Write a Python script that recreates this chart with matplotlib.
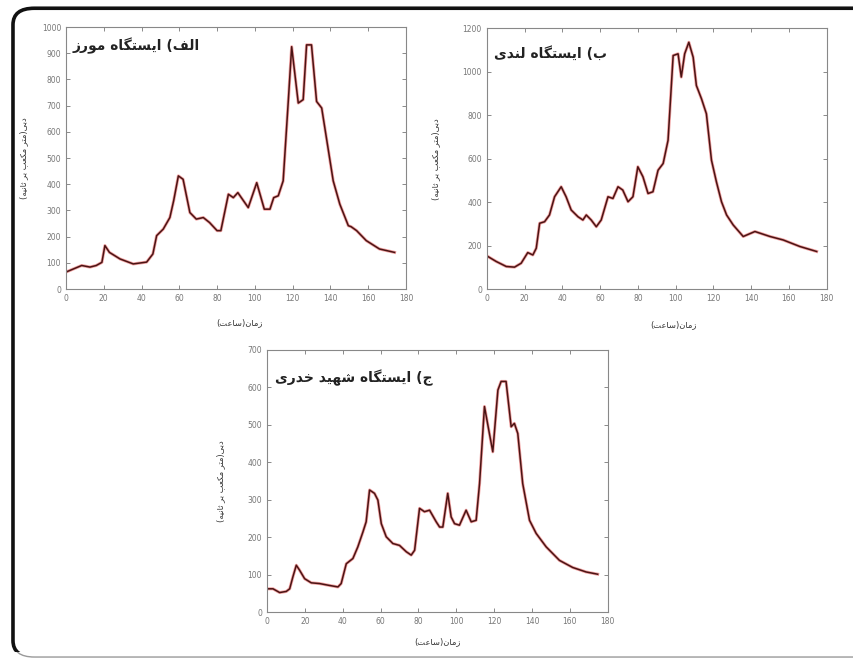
import numpy as np
import matplotlib
matplotlib.use("Agg")
import matplotlib.pyplot as plt
from matplotlib.patches import FancyBboxPatch, Rectangle

# ---------------- data ----------------
morz_t = [0, 8.3, 12.7, 16, 19, 20.6, 23, 28.6, 35.6, 42.7, 46, 48, 51.5, 55, 57, 59.5, 62,
          65.6, 69, 72.7, 76, 80, 82, 86, 88.6, 91, 96.5, 101, 105, 108, 110, 112.4, 115,
          117.7, 119.5, 123, 125.6, 127.4, 130, 132.7, 135.4, 139, 141.5, 145, 149.5, 151,
          153.9, 159, 166, 174]
morz_q = [65, 90, 84, 90, 102, 166, 140, 115, 96, 103, 134, 204, 229, 273, 337, 432, 419,
          292, 267, 273, 254, 223, 223, 362, 349, 368, 311, 406, 305, 305, 349, 356, 413,
          716, 925, 710, 723, 932, 932, 716, 691, 527, 413, 324, 242, 238,
          223, 185, 153, 140]

landi_t = [0, 5, 10.3, 14.7, 18.2, 21.7, 24.4, 26.2, 28, 30.6, 33.2, 35.9, 39.4, 42, 44.7,
           48.3, 50.9, 52.7, 55.3, 58, 60.6, 64.2, 66.8, 69.5, 72, 74.8, 77.4, 80, 82.7,
           85.4, 88, 90.7, 93.4, 96, 98.7, 101.3, 103, 104.8, 107, 109.3, 111, 113.7, 116.3,
           119, 121.6, 124.3, 127, 130.5, 135.8, 142, 150, 157, 165.8, 174.7]
landi_q = [153, 127, 104, 101, 119, 168, 157, 188, 303, 310, 341, 425, 471, 425, 364,
           333, 318, 341, 318, 287, 318, 425, 417, 471, 456, 402, 425, 563, 517,
           440, 448, 547, 578, 685, 1075, 1083, 976, 1083, 1136, 1067, 937, 876, 807,
           593, 494, 402, 341, 295, 242, 265, 242, 226, 196, 173]

khedri_t = [0, 3.2, 6.7, 10.2, 12, 13.7, 15.5, 17.2, 19.9, 23.4, 27.8, 33, 37.5, 39.2, 41.9,
            45.4, 48, 50.7, 52.4, 54.2, 56.8, 58.6, 60.4, 63, 66.5, 70, 73.6, 76.2, 78, 80.6,
            83.2, 85.9, 89.4, 91.2, 92.9, 95.5, 97.3, 99.1, 101.7, 105.2, 107.9, 110.5, 112.3,
            114.9, 117.5, 119.3, 122, 123.7, 126.3, 129, 130.7, 132.5, 135.1, 138.7, 142.2,
            147.5, 154.5, 161.5, 168.6, 174.7]
khedri_q = [62, 62, 52, 55, 62, 94, 125, 112, 89, 78, 76, 71, 67, 76, 129,
            143, 174, 214, 241, 326, 317, 299, 236, 201, 183, 178, 161, 152, 165, 277,
            268, 272, 241, 227, 227, 317, 254, 236, 232, 272, 241, 245, 343,
            549, 477, 428, 593, 616, 616, 495, 504, 477, 343, 245, 210,
            174, 138, 119, 107, 101]

titles = ["الف) ایستگاه مورز", "ب) ایستگاه لندی", "ج) ایستگاه شهید خدری"]
ylabel = "دبی(متر مکعب بر ثانیه)"
xlabel = "زمان(ساعت)"
ymax = [1000, 1200, 700]
ystep = [100, 200, 100]

# ---------------- simple persian shaping (matplotlib has no bidi) ----------------
# char: (isolated, final, initial, medial); two entries = right-joining only
FORMS = {
    'ا': (0xFE8D, 0xFE8E), 'د': (0xFEA9, 0xFEAA), 'ر': (0xFEAD, 0xFEAE),
    'ز': (0xFEAF, 0xFEB0), 'و': (0xFEED, 0xFEEE),
    'ب': (0xFE8F, 0xFE90, 0xFE91, 0xFE92), 'ت': (0xFE95, 0xFE96, 0xFE97, 0xFE98),
    'ث': (0xFE99, 0xFE9A, 0xFE9B, 0xFE9C), 'ج': (0xFE9D, 0xFE9E, 0xFE9F, 0xFEA0),
    'خ': (0xFEA5, 0xFEA6, 0xFEA7, 0xFEA8), 'س': (0xFEB1, 0xFEB2, 0xFEB3, 0xFEB4),
    'ش': (0xFEB5, 0xFEB6, 0xFEB7, 0xFEB8), 'ع': (0xFEC9, 0xFECA, 0xFECB, 0xFECC),
    'ف': (0xFED1, 0xFED2, 0xFED3, 0xFED4), 'ل': (0xFEDD, 0xFEDE, 0xFEDF, 0xFEE0),
    'م': (0xFEE1, 0xFEE2, 0xFEE3, 0xFEE4), 'ن': (0xFEE5, 0xFEE6, 0xFEE7, 0xFEE8),
    'ه': (0xFEE9, 0xFEEA, 0xFEEB, 0xFEEC), 'ک': (0xFB8E, 0xFB8F, 0xFB90, 0xFB91),
    'گ': (0xFB92, 0xFB93, 0xFB94, 0xFB95), 'ی': (0xFBFC, 0xFBFD, 0xFBFE, 0xFBFF),
}


def fa(s):
    out = []
    for i, c in enumerate(s):
        if c not in FORMS:
            out.append(c)
            continue
        f = FORMS[c]
        prev = s[i - 1] if i > 0 else ''
        nxt = s[i + 1] if i + 1 < len(s) else ''
        join_prev = prev in FORMS and len(FORMS[prev]) == 4
        join_next = len(f) == 4 and nxt in FORMS
        if join_prev and join_next:
            k = 3
        elif join_prev:
            k = 1
        elif join_next:
            k = 2
        else:
            k = 0
        out.append(chr(f[k]))
    vis = ''.join(reversed(out))
    return vis.translate(str.maketrans('()', ')('))


# ---------------- figure ----------------
fig = plt.figure(figsize=(8.54, 6.6), dpi=100)

# rounded frame: thin grey everywhere, thick black on left/top
frame = FancyBboxPatch((0.0152, 0.0045), 1.05, 0.983, boxstyle="round,pad=0,rounding_size=0.025",
                       transform=fig.transFigure, fill=False, ec='#999999', lw=1.0)
fig.patches.append(frame)
thick = FancyBboxPatch((0.0152, 0.0045), 1.05, 0.983, boxstyle="round,pad=0,rounding_size=0.025",
                       transform=fig.transFigure, fill=False, ec='#111111', lw=2.6)
fig.patches.append(thick)
thick.set_clip_path(Rectangle((0, 0.012), 1, 1, transform=fig.transFigure))

positions = [[0.0773, 0.562, 0.398, 0.397],
             [0.570, 0.562, 0.398, 0.395],
             [0.3126, 0.0727, 0.399, 0.397]]
series = [(morz_t, morz_q), (landi_t, landi_q), (khedri_t, khedri_q)]
title_xy = [(0.02, 0.93), (0.02, 0.905), (0.025, 0.893)]
ylab_x = [-0.112, -0.138, -0.123]
xlab = [(0.51, -0.11), (0.55, -0.118), (0.50, -0.095)]

for i in range(3):
    ax = fig.add_axes(positions[i])
    t, q = series[i]
    ax.plot(t, q, color='#e03030', lw=2.2, alpha=0.45)
    ax.plot(t, q, color='#4a1414', lw=1.1)
    ax.set_xlim(0, 180)
    ax.set_ylim(0, ymax[i])
    ax.set_xticks(np.arange(0, 181, 20))
    ax.set_yticks(np.arange(0, ymax[i] + 1, ystep[i]))
    ax.tick_params(direction='in', top=True, right=True, labelsize=5.5,
                   colors='#777777', length=3, width=0.6)
    for sp in ax.spines.values():
        sp.set_color('#888888')
        sp.set_linewidth(0.8)
    ax.text(title_xy[i][0], title_xy[i][1], fa(titles[i]), transform=ax.transAxes,
            fontsize=10, fontweight='bold', color='#222222', ha='left', va='center',
            family='DejaVu Sans')
    ax.set_ylabel(fa(ylabel), fontsize=6, color='#333333', family='DejaVu Sans')
    ax.yaxis.set_label_coords(ylab_x[i], 0.5)
    ax.set_xlabel(fa(xlabel), fontsize=6, color='#333333', family='DejaVu Sans')
    ax.xaxis.set_label_coords(xlab[i][0], xlab[i][1])

fig.savefig("out.png", dpi=100)
